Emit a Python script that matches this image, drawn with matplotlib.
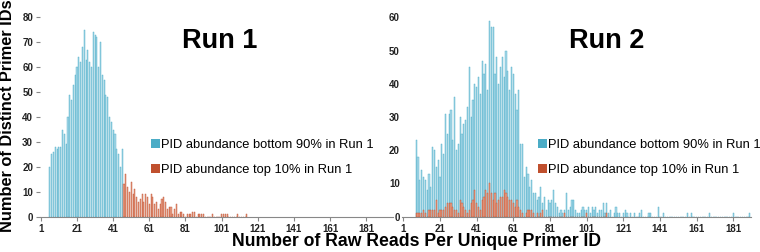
import numpy as np
import matplotlib
matplotlib.use("Agg")
import matplotlib.pyplot as plt
from matplotlib.patches import Patch

plt.rcParams['font.family'] = ['Liberation Sans', 'DejaVu Sans']

# Run 1: counts per read number
run1_blue_start = 6
run1_bottom90 = [20, 25, 26, 28, 27, 28, 28, 35, 33, 29,
                 40, 49, 47, 53, 57, 60, 64, 62, 68, 75,
                 63, 67, 62, 60, 74, 73, 72, 60, 70, 57,
                 55, 49, 48, 40, 38, 35, 33, 27, 25, 20,
                 27]
run1_red_start = 47
run1_top10 = [13, 17, 12, 10, 14, 9, 11, 8, 6, 7,
              9, 6, 9, 8, 5, 9, 8, 5, 6, 3,
              5, 7, 8, 6, 3, 4, 4, 1, 3, 5,
              1, 2, 2, 1, 0, 1, 1, 1, 2, 2,
              0, 1, 1, 1, 1, 0, 0, 0, 0, 1,
              0, 0, 0, 0, 1, 1, 1, 1, 0, 0,
              0, 0, 0, 1, 0, 0, 0, 0, 1]

# Run 2: same primer IDs, split by their Run 1 abundance
run2_start = 8
run2_bottom90 = [23, 18, 11, 14, 12, 11, 8, 13, 9, 21,
                 20, 15, 17, 12, 22, 19, 31, 25, 31, 32,
                 23, 36, 20, 22, 30, 25, 28, 29, 33, 45,
                 30, 35, 40, 39, 42, 37, 47, 43, 46, 38,
                 59, 57, 57, 43, 48, 40, 45, 48, 42, 50,
                 44, 38, 45, 43, 37, 32, 38, 22, 22, 12,
                 15, 13, 9, 11, 7, 7, 5, 6, 9, 4,
                 6, 2, 5, 4, 5, 8, 4, 3, 1, 2,
                 1, 2, 7, 2, 3, 5, 5, 2, 1, 1,
                 2, 3, 2, 2, 3, 1, 3, 2, 3, 1,
                 2, 2, 4, 1, 4, 1, 2, 0, 1, 3,
                 1, 1, 0, 1, 2, 1, 0, 1, 0, 1,
                 0, 0, 1, 2, 0, 0, 0, 1, 1, 0,
                 0, 0, 3, 0, 0, 1, 0, 0, 0, 0,
                 0, 0, 0, 0, 0, 0, 0, 0, 1, 0,
                 1, 0, 0, 0, 0, 0, 0, 0, 0, 0,
                 1, 0, 0, 0, 0, 0, 0, 0, 0, 0,
                 0, 0, 0, 1, 0, 0, 0, 0, 0, 0,
                 0, 0, 1]
run2_top10 = [1, 1, 1, 1, 2, 1, 0, 2, 2, 2,
              2, 5, 1, 2, 2, 2, 3, 4, 4, 4,
              3, 2, 2, 1, 5, 4, 3, 2, 1, 2,
              4, 5, 8, 4, 3, 2, 5, 6, 8, 7,
              10, 7, 5, 7, 4, 5, 6, 6, 8, 7,
              6, 5, 5, 4, 3, 5, 3, 2, 1, 0,
              1, 2, 2, 2, 1, 0, 1, 0, 1, 2,
              0, 0, 0, 0, 0, 0, 0, 0, 0, 0,
              0, 1, 0, 0, 0, 0, 0, 0, 0, 0,
              0, 0, 0, 1, 0, 0, 0, 0, 0, 0,
              0, 0, 0, 0, 1]

xtick_vals = list(range(1, 182, 20))
labels = ['PID abundance bottom 90% in Run 1', 'PID abundance top 10% in Run 1']

BLUE_EDGE = '#4bacc6'
BLUE_FILL = '#a9d9e9'
RED_EDGE = '#c0502e'
RED_FILL = '#e8a088'


def draw_bars(ax, start, values, fill, edge):
    x = np.arange(start, start + len(values))
    ax.bar(x, values, width=0.6, color=fill, edgecolor=edge, linewidth=0.3)


def style_axis(ax, xmax, ymax, yticks_on):
    ax.set_xlim(0.5, xmax)
    ax.set_ylim(0, ymax)
    ax.set_xticks(xtick_vals)
    ax.set_yticks(range(0, ymax + 1, 10))
    for s in ['top', 'right', 'left']:
        ax.spines[s].set_visible(False)
    ax.spines['bottom'].set_color('#888888')
    ax.tick_params(axis='x', length=3, color='#888888', pad=2,
                   labelsize=7, labelcolor='#222222')
    ax.tick_params(axis='y', length=3 if yticks_on else 0, color='#888888',
                   pad=2, labelsize=7, labelcolor='#222222')
    for lab in ax.get_xticklabels() + ax.get_yticklabels():
        lab.set_fontweight('bold')


fig = plt.figure(figsize=(7.6, 2.52), dpi=100)
ax1 = fig.add_axes([0.0526, 0.140, 0.4645, 0.791])
ax2 = fig.add_axes([0.5295, 0.140, 0.4583, 0.791])

draw_bars(ax1, run1_blue_start, run1_bottom90, BLUE_FILL, BLUE_EDGE)
draw_bars(ax1, run1_red_start, run1_top10, RED_FILL, RED_EDGE)
style_axis(ax1, 195.8, 80, True)

draw_bars(ax2, run2_start, run2_bottom90, BLUE_FILL, BLUE_EDGE)
draw_bars(ax2, run2_start, run2_top10, RED_FILL, RED_EDGE)
style_axis(ax2, 190.5, 60, False)

handles = [Patch(facecolor=BLUE_EDGE, edgecolor='none'),
           Patch(facecolor=RED_EDGE, edgecolor='none')]
for ax, lx in [(ax1, 151 / 760), (ax2, 538 / 760)]:
    ax.legend(handles, labels, loc='upper left', bbox_to_anchor=(lx, 1 - 139 / 252),
              bbox_transform=fig.transFigure, frameon=False, fontsize=9.3,
              handlelength=0.7, handleheight=0.7, handletextpad=0.1,
              labelspacing=1.0, borderpad=0, borderaxespad=0)

fig.text(220 / 760, 1 - 41 / 252, 'Run 1', fontsize=19.5, fontweight='bold',
         ha='center', va='center')
fig.text(607 / 760, 1 - 41 / 252, 'Run 2', fontsize=19.5, fontweight='bold',
         ha='center', va='center')

fig.text(417 / 760, 10 / 252, 'Number of Raw Reads Per Unique Primer ID',
         fontsize=12.7, fontweight='bold', ha='center', va='center')
fig.text(8 / 760, 1 - 116 / 252, 'Number of Distinct Primer IDs',
         fontsize=11.8, fontweight='bold', rotation=90, ha='center', va='center')

fig.savefig('out.png', dpi=100)
